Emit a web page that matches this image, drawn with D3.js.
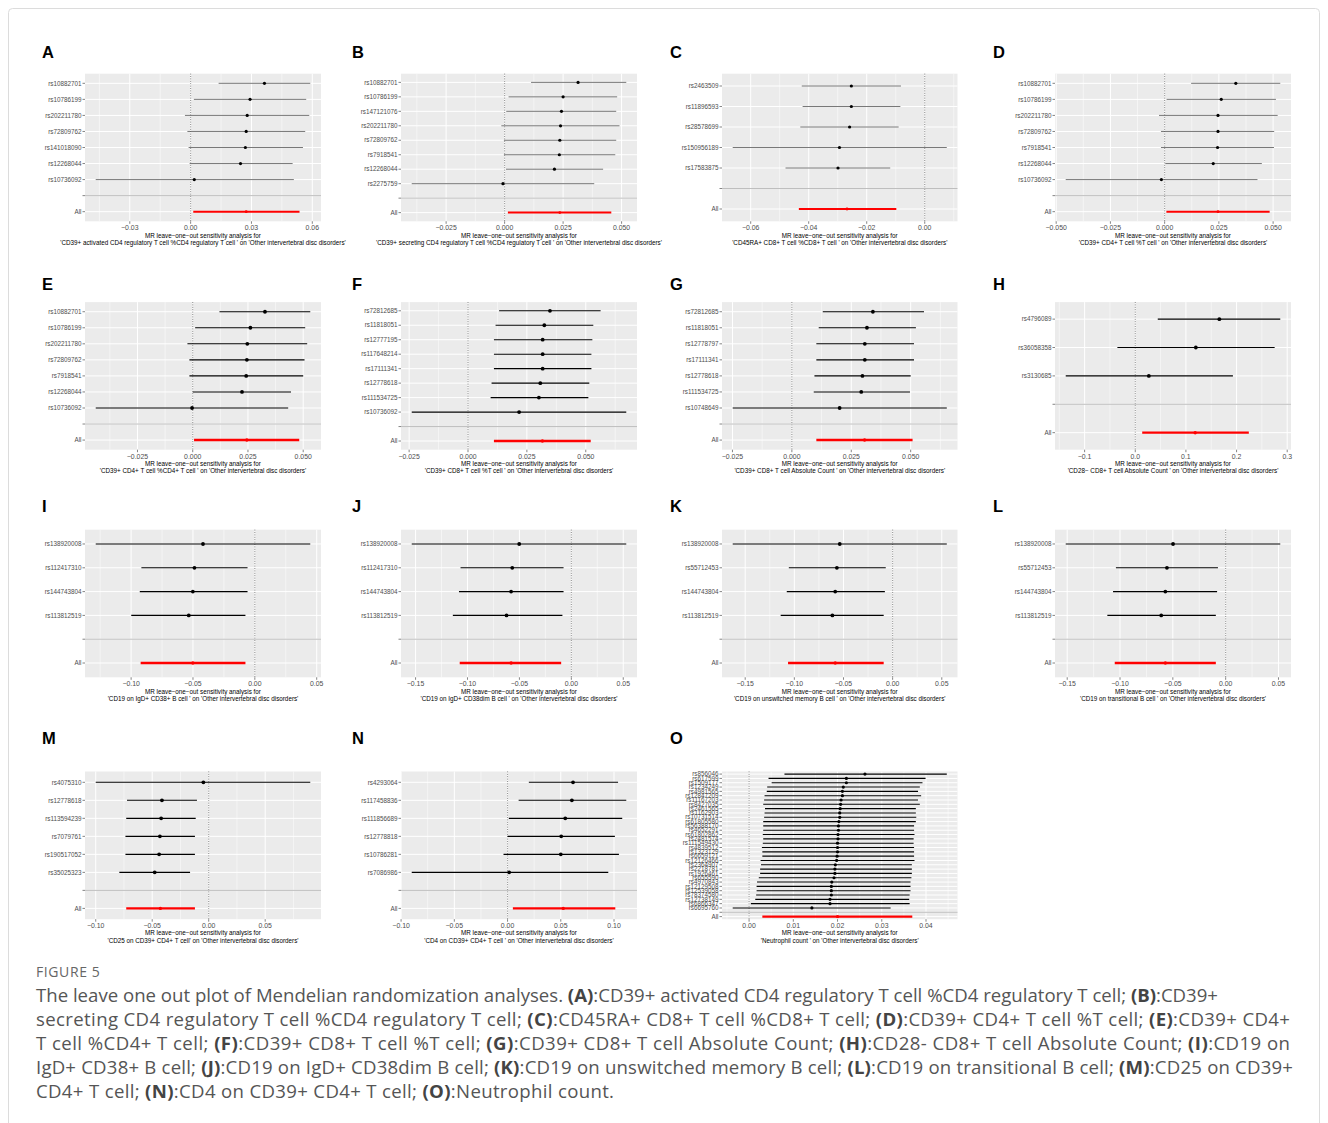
<!DOCTYPE html>
<html>
<head>
<meta charset="utf-8">
<script src="https://cdn.jsdelivr.net/npm/d3@7"></script>
<style>
  body { margin: 0; background: #fff; }
  text { font-family: 'Liberation Sans', Arial, sans-serif; }
  .cap { font-family: 'Open Sans', 'Noto Sans', sans-serif; }
</style>
</head>
<body>
<script>
// ---- data: leave-one-out estimates [beta, lower, upper] per SNP, then "All" ----
const snpA = ['rs10882701', 'rs10786199', 'rs202211780', 'rs72809762', 'rs141018090', 'rs12268044', 'rs10736092'];
const estA = [[0.0364, 0.0138, 0.0590], [0.0293, 0.0016, 0.0570], [0.0279, -0.0028, 0.0585], [0.0274, -0.0016, 0.0565], [0.0270, -0.0010, 0.0554], [0.0246, -0.0005, 0.0503], [0.0018, -0.0468, 0.0509]];
const allA = [0.0274, 0.0013, 0.0537];
const tickA = [-0.03, 0, 0.03, 0.06];
const expA = 'CD39+ activated CD4 regulatory T cell %CD4 regulatory T cell ';

const snpB = ['rs10882701', 'rs10786199', 'rs147121076', 'rs202211780', 'rs72809762', 'rs7918541', 'rs12268044', 'rs2275759'];
const estB = [[0.0314, 0.0113, 0.0520], [0.0250, 0.0017, 0.0481], [0.0243, 0.0007, 0.0477], [0.0239, -0.0014, 0.0491], [0.0236, -0.0003, 0.0477], [0.0234, -0.0003, 0.0473], [0.0213, 0.0006, 0.0421], [-0.0007, -0.0397, 0.0383]];
const allB = [0.0236, 0.0014, 0.0456];
const tickB = [-0.025, 0, 0.025, 0.05];
const expB = 'CD39+ secreting CD4 regulatory T cell %CD4 regulatory T cell ';

const snpC = ['rs2463509', 'rs11896593', 'rs28578699', 'rs150956189', 'rs17583875'];
const estC = [[-0.0253, -0.0424, -0.0082], [-0.0253, -0.0421, -0.0084], [-0.0259, -0.0429, -0.0090], [-0.0294, -0.0662, 0.0076], [-0.0299, -0.0480, -0.0119]];
const allC = [-0.0268, -0.0434, -0.0098];
const tickC = [-0.06, -0.04, -0.02, 0];
const expC = 'CD45RA+ CD8+ T cell %CD8+ T cell ';

const snpD = ['rs10882701', 'rs10786199', 'rs202211780', 'rs72809762', 'rs7918541', 'rs12268044', 'rs10736092'];
const estD = [[0.0328, 0.0122, 0.0533], [0.0261, 0.0009, 0.0513], [0.0246, -0.0026, 0.0521], [0.0246, -0.0017, 0.0505], [0.0244, -0.0017, 0.0504], [0.0224, 0.0003, 0.0448], [-0.0015, -0.0456, 0.0428]];
const allD = [0.0246, 0.0008, 0.0484];
const tickD = [-0.05, -0.025, 0, 0.025, 0.05];
const expD = 'CD39+ CD4+ T cell %T cell ';

const snpE = ['rs10882701', 'rs10786199', 'rs202211780', 'rs72809762', 'rs7918541', 'rs12268044', 'rs10736092'];
const estE = [[0.0327, 0.0121, 0.0532], [0.0261, 0.0011, 0.0509], [0.0247, -0.0024, 0.0518], [0.0245, -0.0015, 0.0506], [0.0242, -0.0015, 0.0500], [0.0223, 0.0000, 0.0445], [-0.0003, -0.0439, 0.0432]];
const allE = [0.0245, 0.0006, 0.0482];
const tickE = [-0.025, 0, 0.025, 0.05];
const expE = 'CD39+ CD4+ T cell %CD4+ T cell ';

const snpF = ['rs72812685', 'rs11818051', 'rs12777195', 'rs117648214', 'rs17111341', 'rs12778618', 'rs111534725', 'rs10736092'];
const estF = [[0.0348, 0.0132, 0.0563], [0.0324, 0.0117, 0.0532], [0.0317, 0.0110, 0.0528], [0.0317, 0.0110, 0.0524], [0.0317, 0.0110, 0.0524], [0.0307, 0.0100, 0.0515], [0.0301, 0.0096, 0.0511], [0.0217, -0.0239, 0.0672]];
const allF = [0.0316, 0.0110, 0.0521];
const tickF = [-0.025, 0, 0.025, 0.05];
const expF = 'CD39+ CD8+ T cell %T cell ';

const snpG = ['rs72812685', 'rs11818051', 'rs12778797', 'rs17111341', 'rs12778618', 'rs111534725', 'rs10748649'];
const estG = [[0.0341, 0.0130, 0.0556], [0.0316, 0.0113, 0.0522], [0.0307, 0.0103, 0.0514], [0.0307, 0.0103, 0.0514], [0.0297, 0.0095, 0.0500], [0.0292, 0.0092, 0.0497], [0.0201, -0.0249, 0.0652]];
const allG = [0.0306, 0.0103, 0.0508];
const tickG = [-0.025, 0, 0.025, 0.05];
const expG = 'CD39+ CD8+ T cell Absolute Count ';

const snpH = ['rs4796089', 'rs36058358', 'rs3130685'];
const estH = [[0.166, 0.0444, 0.2863], [0.1196, -0.0353, 0.2752], [0.0268, -0.1373, 0.1928]];
const allH = [0.1183, 0.0137, 0.2242];
const tickH = [-0.1, 0, 0.1, 0.2, 0.3];
const expH = 'CD28\u2212 CD8+ T cell Absolute Count ';

const snpI = ['rs138920008', 'rs112417310', 'rs144743804', 'rs113812519'];
const estI = [[-0.0419, -0.1286, 0.0448], [-0.0488, -0.0917, -0.0059], [-0.0501, -0.0930, -0.0059], [-0.0534, -0.0999, -0.0076]];
const allI = [-0.0501, -0.0923, -0.0076];
const tickI = [-0.1, -0.05, 0, 0.05];
const expI = 'CD19 on IgD+ CD38+ B cell ';

const snpJ = ['rs138920008', 'rs112417310', 'rs144743804', 'rs113812519'];
const estJ = [[-0.0502, -0.1537, 0.0529], [-0.0569, -0.1067, -0.0075], [-0.0580, -0.1082, -0.0075], [-0.0624, -0.1141, -0.0086]];
const allJ = [-0.0580, -0.1075, -0.0098];
const tickJ = [-0.15, -0.1, -0.05, 0, 0.05];
const expJ = 'CD19 on IgD+ CD38dim B cell ';

const snpK = ['rs138920008', 'rs55712453', 'rs144743804', 'rs113812519'];
const estK = [[-0.0538, -0.1627, 0.0551], [-0.0567, -0.1056, -0.0070], [-0.0584, -0.1077, -0.0079], [-0.0613, -0.1139, -0.0091]];
const allK = [-0.0584, -0.1064, -0.0091];
const tickK = [-0.15, -0.1, -0.05, 0, 0.05];
const expK = 'CD19 on unswitched memory B cell ';

const snpL = ['rs138920008', 'rs55712453', 'rs144743804', 'rs113812519'];
const estL = [[-0.0498, -0.1514, 0.0517], [-0.0556, -0.1039, -0.0073], [-0.0571, -0.1066, -0.0081], [-0.0610, -0.1120, -0.0093]];
const allL = [-0.0571, -0.1050, -0.0093];
const tickL = [-0.15, -0.1, -0.05, 0, 0.05];
const expL = 'CD19 on transitional B cell ';

const snpM = ['rs4075310', 'rs12778618', 'rs113594239', 'rs7079761', 'rs190517052', 'rs35025323'];
const estM = [[-0.0047, -0.1000, 0.0899], [-0.0414, -0.0723, -0.0104], [-0.0421, -0.0730, -0.0115], [-0.0432, -0.0737, -0.0122], [-0.0439, -0.0737, -0.0122], [-0.0478, -0.0791, -0.0165]];
const allM = [-0.0428, -0.0730, -0.0122];
const tickM = [-0.1, -0.05, 0, 0.05];
const expM = 'CD25 on CD39+ CD4+ T cell';

const snpN = ['rs4293064', 'rs117458836', 'rs111856689', 'rs12778818', 'rs10786281', 'rs7086986'];
const estN = [[0.0615, 0.0200, 0.1038], [0.0604, 0.0104, 0.1115], [0.0542, 0.0012, 0.1077], [0.0504, 0.0000, 0.1008], [0.0500, -0.0038, 0.1046], [0.0015, -0.0900, 0.0946]];
const allN = [0.0523, 0.0050, 0.1012];
const tickN = [-0.1, -0.05, 0, 0.05, 0.1];
const expN = 'CD4 on CD39+ CD4+ T cell ';

const snpO = ['rs856046', 'rs617599', 'rs1509177', 'rs1234249', 'rs4981565', 'rs12847209', 'rs11167203', 'rs8427035',
  'rs2461565', 'rs1162903', 'rs10731514', 'rs61805580', 'rs56388170', 'rs4652291', 'rs61802862', 'rs2481574',
  'rs111549430', 'rs4839512', 'rs1323129', 'rs6659121', 'rs12126466', 'rs2364907', 'rs2218781', 'rs1926461',
  'rs655590', 'rs4970843', 'rs12129508', 'rs12539058', 'rs78374580', 'rs12738149', 'rs6866347', 'rs6695760'];
const estO = [[0.0262, 0.0080, 0.0447], [0.0220, 0.0044, 0.0399], [0.0220, 0.0051, 0.0392], [0.0213, 0.0041, 0.0386],
  [0.0211, 0.0040, 0.0382], [0.0211, 0.0035, 0.0389], [0.0208, 0.0034, 0.0382], [0.0207, 0.0032, 0.0386],
  [0.0206, 0.0036, 0.0377], [0.0205, 0.0035, 0.0377], [0.0205, 0.0034, 0.0378], [0.0203, 0.0032, 0.0377],
  [0.0202, 0.0032, 0.0373], [0.0202, 0.0032, 0.0373], [0.0201, 0.0031, 0.0374], [0.0201, 0.0032, 0.0372],
  [0.0200, 0.0031, 0.0372], [0.0200, 0.0029, 0.0373], [0.0200, 0.0030, 0.0373], [0.0199, 0.0030, 0.0373],
  [0.0198, 0.0026, 0.0374], [0.0195, 0.0027, 0.0368], [0.0194, 0.0025, 0.0368], [0.0194, 0.0025, 0.0368],
  [0.0192, 0.0022, 0.0367], [0.0187, 0.0018, 0.0365], [0.0186, 0.0017, 0.0365], [0.0186, 0.0017, 0.0365],
  [0.0186, 0.0016, 0.0363], [0.0183, 0.0014, 0.0362], [0.0183, 0.0004, 0.0363], [0.0142, -0.0037, 0.0320]];
const allO = [0.0200, 0.0030, 0.0369];
const tickO = [0, 0.01, 0.02, 0.03, 0.04];
const expO = 'Neutrophil count ';

const outcome = 'Other intervertebral disc disorders';
const titleTop = 'MR leave\u2212one\u2212out sensitivity analysis for';

const captionHead = 'FIGURE 5';
const captionLines = [
  'The leave one out plot of Mendelian randomization analyses. (A):CD39+ activated CD4 regulatory T cell %CD4 regulatory T cell; (B):CD39+',
  'secreting CD4 regulatory T cell %CD4 regulatory T cell; (C):CD45RA+ CD8+ T cell %CD8+ T cell; (D):CD39+ CD4+ T cell %T cell; (E):CD39+ CD4+',
  'T cell %CD4+ T cell; (F):CD39+ CD8+ T cell %T cell; (G):CD39+ CD8+ T cell Absolute Count; (H):CD28- CD8+ T cell Absolute Count; (I):CD19 on',
  'IgD+ CD38+ B cell; (J):CD19 on IgD+ CD38dim B cell; (K):CD19 on unswitched memory B cell; (L):CD19 on transitional B cell; (M):CD25 on CD39+',
  'CD4+ T cell; (N):CD4 on CD39+ CD4+ T cell; (O):Neutrophil count.'
];

const panels = [
  { id: 'A', snp: snpA, est: estA, all: allA, ticks: tickA, exp: expA },
  { id: 'B', snp: snpB, est: estB, all: allB, ticks: tickB, exp: expB },
  { id: 'C', snp: snpC, est: estC, all: allC, ticks: tickC, exp: expC },
  { id: 'D', snp: snpD, est: estD, all: allD, ticks: tickD, exp: expD },
  { id: 'E', snp: snpE, est: estE, all: allE, ticks: tickE, exp: expE },
  { id: 'F', snp: snpF, est: estF, all: allF, ticks: tickF, exp: expF },
  { id: 'G', snp: snpG, est: estG, all: allG, ticks: tickG, exp: expG },
  { id: 'H', snp: snpH, est: estH, all: allH, ticks: tickH, exp: expH },
  { id: 'I', snp: snpI, est: estI, all: allI, ticks: tickI, exp: expI },
  { id: 'J', snp: snpJ, est: estJ, all: allJ, ticks: tickJ, exp: expJ },
  { id: 'K', snp: snpK, est: estK, all: allK, ticks: tickK, exp: expK },
  { id: 'L', snp: snpL, est: estL, all: allL, ticks: tickL, exp: expL },
  { id: 'M', snp: snpM, est: estM, all: allM, ticks: tickM, exp: expM },
  { id: 'N', snp: snpN, est: estN, all: allN, ticks: tickN, exp: expN },
  { id: 'O', snp: snpO, est: estO, all: allO, ticks: tickO, exp: expO }
];

// ---- layout ----
const colLeft = [85, 401, 722, 1055];
const colRight = [321, 637, 957.5, 1291];
const letterX = [42, 352, 670, 993];
const rowTop = [73.7, 302.1, 529.7, 771.5];
const rowBottom = [221.3, 449.7, 677.3, 919.2];
const letterY = [58, 290, 512, 744];
const rowStyle = [
  { bar: '#555', barW: 0.8, dot: 1.6, allW: 2 },
  { bar: '#000', barW: 1.1, dot: 1.9, allW: 2.4 },
  { bar: '#000', barW: 1.1, dot: 1.9, allW: 2.4 },
  { bar: '#000', barW: 1.1, dot: 1.9, allW: 2.4 }
];
// right edges of the caption lines in the reference
const captionEnds = [1218, 1290, 1290, 1293, 614];

const svg = d3.select('body').append('svg').attr('width', 1328).attr('height', 1123);

svg.append('rect')
  .attr('x', 8.5).attr('y', 8.5).attr('width', 1311).attr('height', 1140).attr('rx', 4)
  .attr('fill', 'none').attr('stroke', '#dcdcdc');

function drawPanel(p, i) {
  const col = i % 4;
  const row = Math.floor(i / 4);
  const left = colLeft[col];
  const right = colRight[col];
  const top = rowTop[row];
  const bottom = rowBottom[row];
  const st = rowStyle[row];
  const g = svg.append('g').attr('class', `panel${p.id}`);

  // x range like ggplot: data + zero line, expanded by 5%
  const lows = p.est.map((d) => d[1]).concat([p.all[1], 0]);
  const highs = p.est.map((d) => d[2]).concat([p.all[2], 0]);
  const lo = d3.min(lows);
  const hi = d3.max(highs);
  const pad = (hi - lo) * 0.05;
  const x = d3.scaleLinear().domain([lo - pad, hi + pad]).range([left, right]);
  const rows = p.snp.concat(['', 'All']);
  const y = d3.scalePoint().domain(rows).range([top, bottom]).padding(0.6);

  g.append('rect').attr('x', left).attr('y', top)
    .attr('width', right - left).attr('height', bottom - top).attr('fill', '#EBEBEB');

  // minor grid
  const step = p.ticks[1] - p.ticks[0];
  const dom = x.domain();
  const minors = [];
  for (let v = p.ticks[0] - step / 2; v > dom[0]; v -= step) minors.push(v);
  for (let v = p.ticks[0] + step / 2; v < dom[1]; v += step) minors.push(v);
  g.selectAll('.minor').data(minors).join('line')
    .attr('x1', (d) => x(d)).attr('x2', (d) => x(d))
    .attr('y1', top).attr('y2', bottom)
    .attr('stroke', '#fff').attr('stroke-width', 0.5);

  // major grid
  g.selectAll('.majx').data(p.ticks).join('line')
    .attr('x1', (d) => x(d)).attr('x2', (d) => x(d))
    .attr('y1', top).attr('y2', bottom)
    .attr('stroke', '#fff').attr('stroke-width', 1);
  g.selectAll('.majy').data(rows).join('line')
    .attr('x1', left).attr('x2', right)
    .attr('y1', (d) => y(d)).attr('y2', (d) => y(d))
    .attr('stroke', '#fff').attr('stroke-width', 1);

  // zero line
  g.append('line').attr('x1', x(0)).attr('x2', x(0)).attr('y1', top).attr('y2', bottom)
    .attr('stroke', '#333').attr('stroke-width', 0.7).attr('stroke-dasharray', '0.8 1.6');

  // leave-one-out estimates
  g.selectAll('.bar').data(p.est).join('line')
    .attr('x1', (d) => x(d[1])).attr('x2', (d) => x(d[2]))
    .attr('y1', (d, k) => y(p.snp[k])).attr('y2', (d, k) => y(p.snp[k]))
    .attr('stroke', st.bar).attr('stroke-width', st.barW);
  g.selectAll('.dot').data(p.est).join('circle')
    .attr('cx', (d) => x(d[0])).attr('cy', (d, k) => y(p.snp[k]))
    .attr('r', p.snp.length > 20 ? 1.6 : st.dot).attr('fill', '#000');

  // overall estimate
  g.append('line').attr('x1', x(p.all[1])).attr('x2', x(p.all[2]))
    .attr('y1', y('All')).attr('y2', y('All'))
    .attr('stroke', '#FF0000').attr('stroke-width', st.allW);
  g.append('circle').attr('cx', x(p.all[0])).attr('cy', y('All'))
    .attr('r', st.dot * 0.9).attr('fill', '#FF0000');

  // separator row
  g.append('line').attr('x1', left).attr('x2', right).attr('y1', y('')).attr('y2', y(''))
    .attr('stroke', '#BEBEBE').attr('stroke-width', 1);

  // y axis
  g.selectAll('.yt').data(rows).join('line')
    .attr('x1', left - 2.5).attr('x2', left)
    .attr('y1', (d) => y(d)).attr('y2', (d) => y(d))
    .attr('stroke', '#333').attr('stroke-width', 0.6);
  g.selectAll('.yl').data(rows).join('text')
    .attr('x', left - 3.5).attr('y', (d) => y(d) + 2.2)
    .attr('text-anchor', 'end').attr('font-size', 6.3).attr('fill', '#4D4D4D')
    .text((d) => d);

  // x axis
  const digits = d3.max(p.ticks, (t) => (String(t).split('.')[1] || '').length);
  const fmt = d3.format(`.${digits}f`);
  g.selectAll('.xt').data(p.ticks).join('line')
    .attr('x1', (d) => x(d)).attr('x2', (d) => x(d))
    .attr('y1', bottom).attr('y2', bottom + 2.5)
    .attr('stroke', '#333').attr('stroke-width', 0.6);
  g.selectAll('.xl').data(p.ticks).join('text')
    .attr('x', (d) => x(d)).attr('y', bottom + 9)
    .attr('text-anchor', 'middle').attr('font-size', 6.9).attr('fill', '#4D4D4D')
    .text((d) => fmt(d));

  // x title
  const cx = (left + right) / 2;
  g.append('text').attr('x', cx).attr('y', bottom + 16.2)
    .attr('text-anchor', 'middle').attr('font-size', 6.3).attr('fill', '#000')
    .text(titleTop);
  g.append('text').attr('x', cx).attr('y', bottom + 23.7)
    .attr('text-anchor', 'middle').attr('font-size', 6.3).attr('fill', '#000')
    .text(` '${p.exp}' on '${outcome}'`);

  // panel letter
  svg.append('text').attr('x', letterX[col]).attr('y', letterY[row])
    .attr('font-size', 16.5).attr('font-weight', 'bold').attr('fill', '#000')
    .text(p.id);
}

panels.forEach(drawPanel);

// caption
svg.append('text').attr('class', 'cap')
  .attr('x', 36).attr('y', 977).attr('font-size', 14).attr('letter-spacing', 0.6)
  .attr('fill', '#666').text(captionHead);

captionLines.forEach((line, k) => {
  const t = svg.append('text').attr('class', 'cap')
    .attr('x', 36).attr('y', 1002 + k * 24).attr('font-size', 18.6).attr('fill', '#555')
    .attr('textLength', captionEnds[k] - 36).attr('lengthAdjust', 'spacing');
  line.split(/(\([A-O]\))/).filter((s) => s.length).forEach((seg) => {
    const bold = /^\([A-O]\)$/.test(seg);
    t.append('tspan').attr('font-weight', bold ? 'bold' : null)
      .attr('fill', bold ? '#444' : null).text(seg);
  });
});
</script>
</body>
</html>
